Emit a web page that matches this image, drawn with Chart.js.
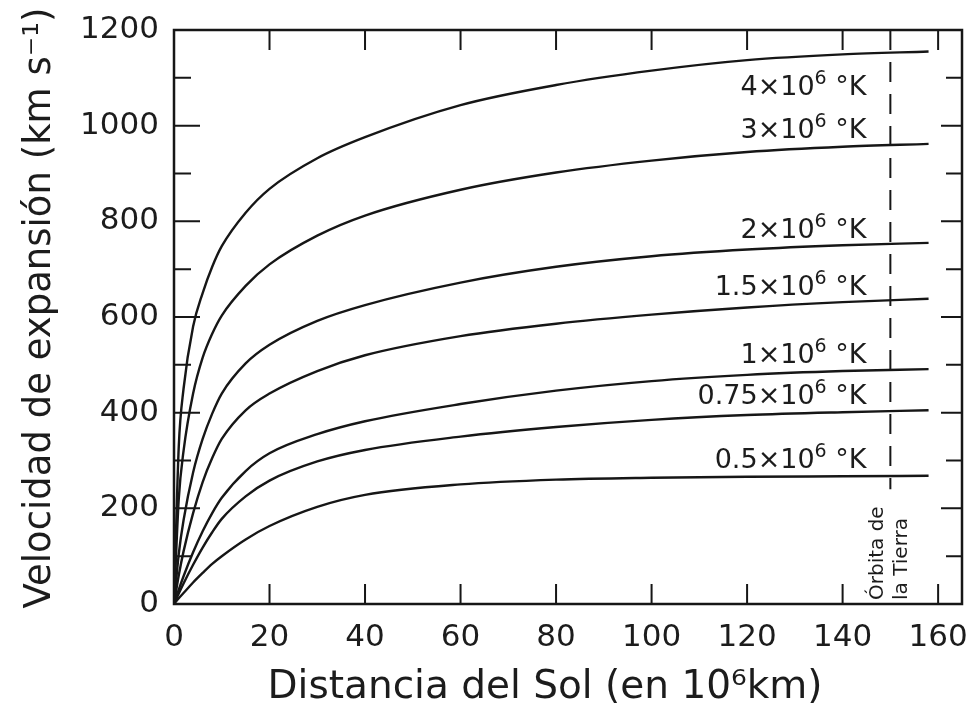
<!DOCTYPE html>
<html>
<head>
<meta charset="utf-8">
<script src="https://cdn.jsdelivr.net/npm/chart.js@4.4.1/dist/chart.umd.min.js"></script>
<style>
  html, body { margin: 0; padding: 0; background: #fff; }
</style>
</head>
<body>
<canvas id="chart" width="972" height="709"></canvas>
<script>
// distance from the Sun (10^6 km), shared by all curves
const distance = [0, 1, 2, 4, 6, 8, 10, 15, 20, 30, 40, 60, 80, 100, 120, 140, 158];

// expansion velocity (km/s) for each coronal temperature
const v4e6   = [0, 330, 450, 580, 650, 705, 748, 818, 868, 932, 976, 1043, 1085, 1115, 1137, 1149, 1155];
const v3e6   = [0, 220, 320, 440, 515, 565, 603, 665, 710, 770, 812, 866, 902, 927, 945, 956, 962];
const v2e6   = [0, 105, 175, 275, 345, 398, 440, 503, 542, 592, 625, 672, 705, 727, 741, 750, 755];
const v15e6  = [0, 60, 110, 190, 255, 305, 345, 405, 440, 487, 520, 560, 586, 605, 620, 631, 638];
const v1e6   = [0, 30, 58, 108, 152, 190, 222, 278, 315, 355, 382, 418, 446, 466, 479, 487, 491];
const v075e6 = [0, 22, 43, 82, 118, 150, 178, 225, 258, 298, 322, 350, 370, 385, 395, 401, 405];
const v05e6  = [0, 12, 23, 45, 65, 84, 100, 135, 163, 203, 228, 250, 260, 264, 266, 267, 268];

const series = [v4e6, v3e6, v2e6, v15e6, v1e6, v075e6, v05e6];

// curve labels: coefficient of 10^6 K and where the label sits (data units, right edge)
const labelCoef = ['4', '3', '2', '1.5', '1', '0.75', '0.5'];
const labelY = [1079, 989, 780, 661, 518, 433, 299];
const labelX = 145;

// axis tick labels and tick marks along the frame
const xTickLabels = [0, 20, 40, 60, 80, 100, 120, 140, 160];
const yTickLabels = [0, 200, 400, 600, 800, 1000, 1200];
const yTickMarks = [100, 200, 300, 400, 500, 600, 700, 800, 900, 1000, 1100];
const xTickMarks = [20, 40, 60, 80, 100, 120, 140, 160];

const earthOrbit = 150;

const ink = '#161616';
const textInk = '#1c1c1c';

const datasets = series.map(vals => ({
  data: distance.map((d, i) => ({ x: d, y: vals[i] })),
  borderColor: ink,
  borderWidth: 2.4,
  pointRadius: 0,
  fill: false,
  cubicInterpolationMode: 'monotone'
}));

const decor = {
  id: 'decor',
  afterDraw(chart) {
    const ctx = chart.ctx;
    const { left, top, right, bottom } = chart.chartArea;
    const xs = chart.scales.x;
    const ys = chart.scales.y;
    ctx.save();

    // frame
    ctx.strokeStyle = ink;
    ctx.lineWidth = 2.5;
    ctx.strokeRect(left, top, right - left, bottom - top);

    // inner ticks
    ctx.lineWidth = 2;
    ctx.beginPath();
    yTickMarks.forEach(v => {
      const py = ys.getPixelForValue(v);
      const major = v % 200 === 0;
      ctx.moveTo(left, py); ctx.lineTo(left + (major ? 26 : 17), py);
      ctx.moveTo(right, py); ctx.lineTo(right - (major ? 21 : 16), py);
    });
    xTickMarks.forEach(v => {
      const px = xs.getPixelForValue(v);
      ctx.moveTo(px, bottom); ctx.lineTo(px, bottom - 20);
      ctx.moveTo(px, top); ctx.lineTo(px, top + 20);
    });
    ctx.stroke();

    // earth orbit dashed line
    const ox = xs.getPixelForValue(earthOrbit);
    ctx.setLineDash([20, 12]);
    ctx.lineWidth = 2;
    ctx.beginPath();
    ctx.moveTo(ox, top);
    ctx.lineTo(ox, ys.getPixelForValue(240));
    ctx.stroke();
    ctx.setLineDash([]);

    // curve labels
    ctx.fillStyle = textInk;
    ctx.textBaseline = 'middle';
    const mainFont = '27px "DejaVu Sans"';
    const supFont = '19px "DejaVu Sans"';
    labelCoef.forEach((c, i) => {
      const base = c + '\u00d710';
      const tail = ' \u00b0K';
      ctx.font = mainFont;
      const wBase = ctx.measureText(base).width;
      const wTail = ctx.measureText(tail).width;
      ctx.font = supFont;
      const wSup = ctx.measureText('6').width;
      const xr = xs.getPixelForValue(labelX);
      const py = ys.getPixelForValue(labelY[i]);
      const x0 = xr - (wBase + wSup + wTail);
      ctx.textAlign = 'left';
      ctx.font = mainFont;
      ctx.fillText(base, x0, py);
      ctx.font = supFont;
      ctx.fillText('6', x0 + wBase, py - 9);
      ctx.font = mainFont;
      ctx.fillText(tail, x0 + wBase + wSup, py);
    });

    // earth orbit caption
    ctx.font = '20px "DejaVu Sans"';
    ctx.textAlign = 'left';
    ctx.textBaseline = 'middle';
    const oy = bottom - 4;
    ctx.save();
    ctx.translate(ox - 13, oy);
    ctx.rotate(-Math.PI / 2);
    ctx.fillText('\u00d3rbita de', 0, 0);
    ctx.restore();
    ctx.save();
    ctx.translate(ox + 11, oy);
    ctx.rotate(-Math.PI / 2);
    ctx.fillText('la Tierra', 0, 0);
    ctx.restore();

    // axis titles
    ctx.font = '39px "DejaVu Sans"';
    ctx.textAlign = 'center';
    ctx.fillText('Distancia del Sol (en 10\u2076km)', 545, 688);
    ctx.font = '37px "DejaVu Sans"';
    ctx.save();
    ctx.translate(40, 308);
    ctx.rotate(-Math.PI / 2);
    ctx.fillText('Velocidad de expansi\u00f3n (km s\u207b\u00b9)', 0, 0);
    ctx.restore();

    ctx.restore();
  }
};

const tickFont = { family: 'DejaVu Sans', size: 31 };

new Chart(document.getElementById('chart').getContext('2d'), {
  type: 'line',
  data: { datasets },
  options: {
    responsive: false,
    animation: false,
    layout: { padding: { top: 30, right: 10, left: 0, bottom: 0 } },
    plugins: { legend: { display: false }, tooltip: { enabled: false } },
    scales: {
      x: {
        type: 'linear',
        min: 0,
        max: 165,
        grid: { display: false, drawTicks: false },
        border: { display: false },
        ticks: { padding: 15, color: textInk, font: tickFont, maxRotation: 0, autoSkip: false, callback: v => String(v) },
        afterBuildTicks: s => { s.ticks = xTickLabels.map(v => ({ value: v })); },
        afterFit: s => { s.height = 105; s.paddingLeft = 0; s.paddingRight = 0; }
      },
      y: {
        min: 0,
        max: 1200,
        grid: { display: false, drawTicks: false },
        border: { display: false },
        ticks: { padding: 15, color: textInk, font: tickFont, callback: v => String(v) },
        afterBuildTicks: s => { s.ticks = yTickLabels.map(v => ({ value: v })); },
        afterFit: s => { s.width = 174; s.paddingTop = 0; s.paddingBottom = 0; }
      }
    }
  },
  plugins: [decor]
});
</script>
</body>
</html>
